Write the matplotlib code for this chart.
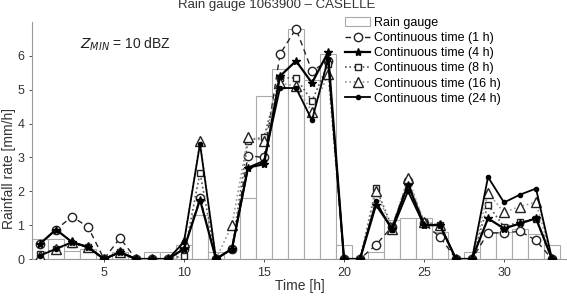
import numpy as np
import matplotlib
matplotlib.use("Agg")
import matplotlib.pyplot as plt

plt.rcParams['font.family'] = ['Liberation Sans', 'DejaVu Sans']

# =====================================================
# DATA
# =====================================================
hours = np.arange(1, 34)

gauge = [0.6, 0.6, 0.25, 0.3, 0, 0.2, 0, 0.2, 0.2, 0.4, 1.3, 0.2, 0, 1.8, 4.8,
         5.6, 6.8, 5.3, 6.05, 0.4, 0, 0.2, 1.15, 1.2, 1.2, 0.8, 0, 0.2, 0.8,
         0.8, 0.9, 0.75, 0.4]

ct_1h = [0.45, 0.87, 1.25, 0.95, 0, 0.62, 0, 0, 0, 0.3, 1.8, 0, 0.3, 3.05, 3.0,
         6.05, 6.8, 5.55, 5.85, 0, 0, 0.42, 0.95, 2.3, 1.05, 0.65, 0, 0, 0.77,
         0.77, 0.82, 0.55, 0]
ct_4h = [0.45, 0.87, 0.5, 0.35, 0, 0.2, 0, 0, 0, 0.3, 1.75, 0, 0.3, 2.7, 2.8,
         5.4, 5.85, 5.2, 6.1, 0, 0, 1.6, 0.9, 2.2, 1.0, 1.0, 0, 0, 1.2,
         0.9, 1.05, 1.2, 0]
ct_8h = [0.15, 0.3, 0.45, 0.35, 0, 0.2, 0, 0, 0, 0.1, 2.55, 0, 0.3, 3.5, 3.6,
         5.35, 5.35, 4.67, 5.75, 0, 0, 2.1, 0.95, 2.25, 1.1, 1.0, 0, 0, 1.6,
         0.95, 1.1, 1.17, 0]
ct_16h = [0.1, 0.3, 0.5, 0.35, 0, 0.2, 0, 0, 0, 0.5, 3.5, 0, 1.0, 3.6, 3.5,
          5.2, 5.1, 4.35, 5.45, 0, 0, 2.0, 0.9, 2.4, 1.1, 1.0, 0, 0, 1.95,
          1.38, 1.55, 1.68, 0]
ct_24h = [0.1, 0.3, 0.5, 0.35, 0, 0.2, 0, 0, 0, 0.5, 3.4, 0, 0.3, 2.7, 2.9,
          5.05, 5.05, 4.1, 5.9, 0, 0, 1.7, 0.85, 2.0, 1.0, 1.0, 0, 0, 2.42,
          1.67, 1.9, 2.08, 0]

# =====================================================
# FIGURE
# =====================================================
fig = plt.figure(figsize=(5.67, 3.0), dpi=100)
ax = fig.add_axes([32 / 567, 41 / 300, 535 / 567, 237 / 300])

bars = ax.bar(hours, gauge, width=1, facecolor='white', edgecolor='#aaaaaa',
              linewidth=0.8, label='Rain gauge', zorder=1)

l1, = ax.plot(hours, ct_1h, linestyle=(0, (4, 3)), color='#222222', lw=1.0,
              marker='o', ms=6, mfc='white', mec='#222222', mew=1.0,
              label='Continuous time (1 h)', zorder=3)
l4, = ax.plot(hours, ct_4h, linestyle='-', color='black', lw=1.6,
              marker='*', ms=6, mfc='black', mec='black',
              label='Continuous time (4 h)', zorder=4)
l8, = ax.plot(hours, ct_8h, linestyle=':', color='#555555', lw=1.2,
              marker='s', ms=5, mfc='white', mec='#222222', mew=1.0,
              label='Continuous time (8 h)', zorder=3)
l16, = ax.plot(hours, ct_16h, linestyle=':', color='#999999', lw=1.2,
               marker='^', ms=6.5, mfc='white', mec='#222222', mew=1.0,
               label='Continuous time (16 h)', zorder=3)
l24, = ax.plot(hours, ct_24h, linestyle='-', color='black', lw=1.3,
               marker='o', ms=3, mfc='black', mec='black',
               label='Continuous time (24 h)', zorder=4)

ax.set_xlim(0.5, 0.5 + 535 / 16)
ax.set_ylim(0, 7)
ax.set_xticks([5, 10, 15, 20, 25, 30])
ax.set_yticks(range(0, 7))
ax.tick_params(labelsize=9, colors='#333333', length=2, width=0.6)

for side in ['top', 'right']:
    ax.spines[side].set_visible(False)
for side in ['left', 'bottom']:
    ax.spines[side].set_color('#999999')
    ax.spines[side].set_linewidth(0.8)

ax.set_xlabel("Time [h]", fontsize=10, color='#333333', labelpad=0)
ax.set_ylabel("Rainfall rate [mm/h]", fontsize=10, color='#333333')
ax.yaxis.set_label_coords(-16 / 535, 0.38)

fig.text(277 / 567, 1 - 5 / 300, "Rain gauge 1063900 \u2013 CASELLE",
         ha='center', va='center', fontsize=9.5, color='#333333')

ax.text(0.09, 0.905, r"$Z_{MIN}$ = 10 dBZ", transform=ax.transAxes,
        fontsize=10, color='#222222', va='center')

ax.legend([bars, l1, l4, l8, l16, l24],
          ['Rain gauge', 'Continuous time (1 h)', 'Continuous time (4 h)',
           'Continuous time (8 h)', 'Continuous time (16 h)',
           'Continuous time (24 h)'],
          loc='upper left', bbox_to_anchor=(345 / 567, 1 - 17 / 300),
          bbox_transform=fig.transFigure, frameon=False, fontsize=9,
          handlelength=2.0, handletextpad=0.3, labelspacing=0.25,
          borderaxespad=0, borderpad=0)

fig.savefig("out.png", dpi=100)
